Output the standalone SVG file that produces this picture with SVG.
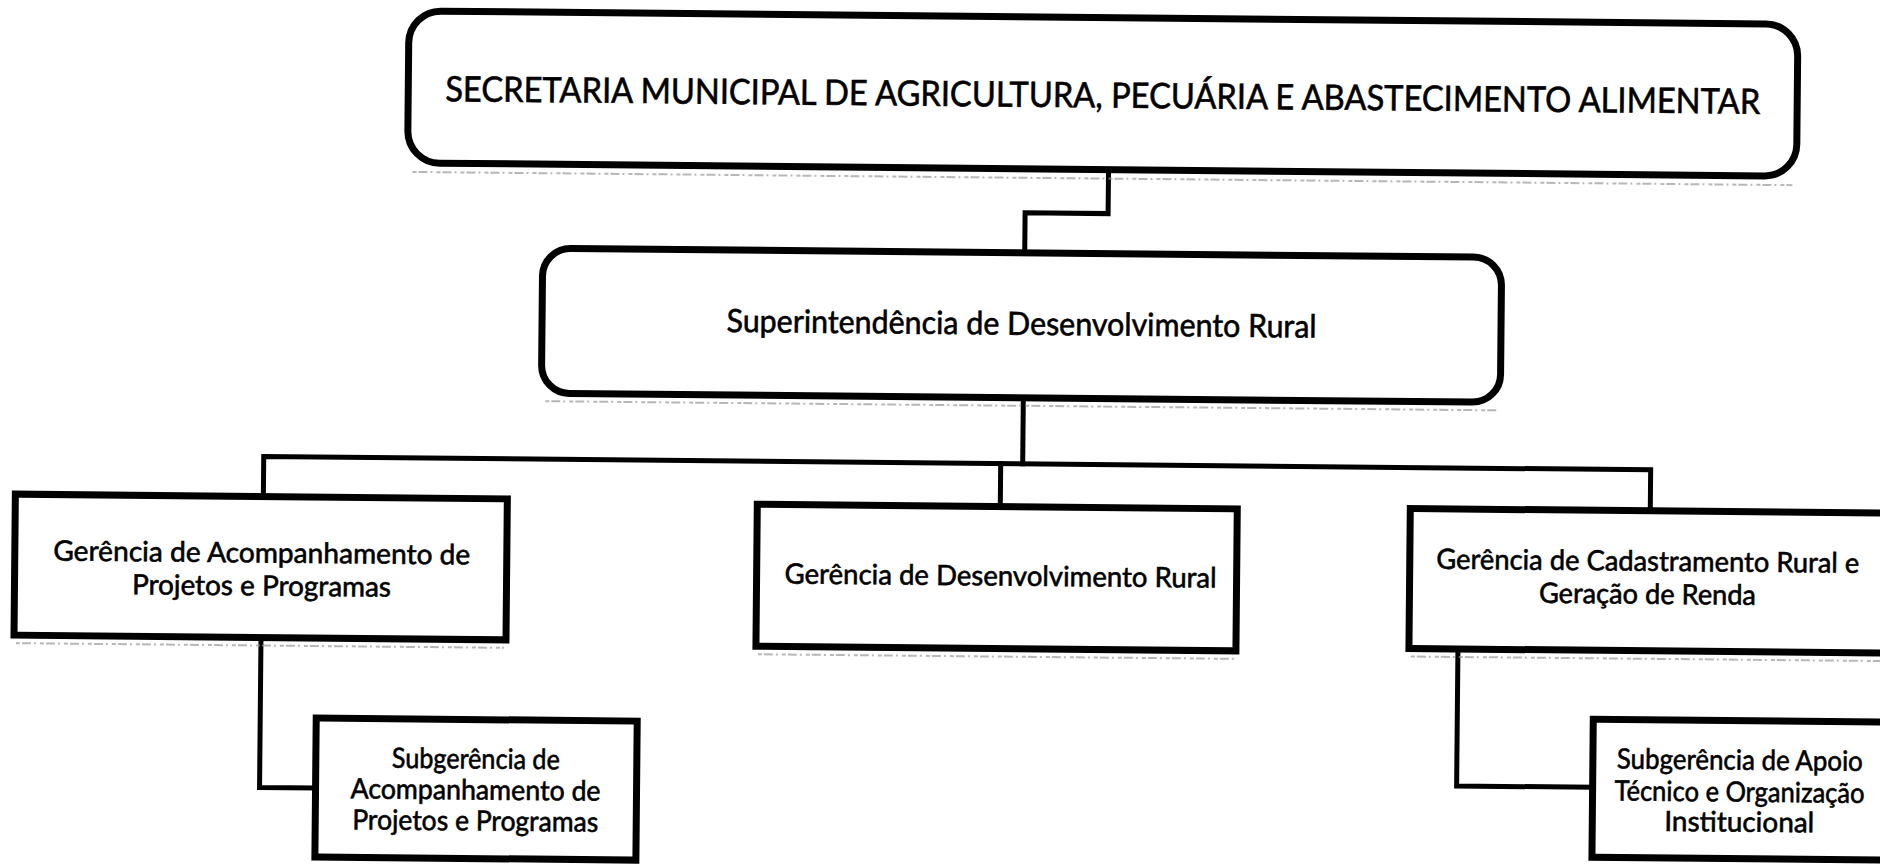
<svg xmlns="http://www.w3.org/2000/svg" width="1880" height="864" viewBox="0 0 1880 864">
<style>
.box{fill:#fff;stroke:#000;stroke-width:7}
.con{fill:none;stroke:#000;stroke-width:5;stroke-linejoin:miter;stroke-linecap:square}
.sh{stroke:#999;stroke-width:2;stroke-dasharray:4 2 9 3 2 4;opacity:.7}
text{font-family:Lato,"Open Sans","Liberation Sans",sans-serif;fill:#000;stroke:#000;stroke-width:0.6;text-anchor:middle}
.t1{font-size:35px}
.t2{font-size:32px}
.t3{font-size:28px}
</style>
<rect width="1880" height="864" fill="#fff"/>
<g transform="rotate(0.55 940 432)">
<g id="connectors">
<path class="con" d="M1106,168 V212 H1023 V252"/>
<path class="con" d="M1023,397 V463"/>
<path class="con" d="M264,503 V463 H1651 V504"/>
<path class="con" d="M1001,463 V506"/>
<path class="con" d="M263,644 V794 H319"/>
<path class="con" d="M1460,644 V781 H1596"/>
</g>
<g id="secretaria">
<line class="sh" x1="410" y1="177" x2="1790" y2="177"/>
<rect class="box" x="405" y="16" width="1389" height="152" rx="32"/>
<text class="t1" x="1099.5" y="106" textLength="1315" lengthAdjust="spacingAndGlyphs">SECRETARIA MUNICIPAL DE AGRICULTURA, PECUÁRIA E ABASTECIMENTO ALIMENTAR</text>
</g>
<g id="superintendencia">
<line class="sh" x1="545" y1="405" x2="1496" y2="405"/>
<rect class="box" x="541" y="252" width="959" height="145" rx="28"/>
<text class="t2" x="1020.5" y="334" textLength="590" lengthAdjust="spacingAndGlyphs">Superintendência de Desenvolvimento Rural</text>
</g>
<g id="ger-acompanhamento">
<line class="sh" x1="18" y1="652" x2="506" y2="652"/>
<rect class="box" x="16" y="503" width="492" height="141"/>
<text class="t3" x="263" y="569" textLength="417" lengthAdjust="spacingAndGlyphs">Gerência de Acompanhamento de</text>
<text class="t3" x="263" y="602" textLength="259" lengthAdjust="spacingAndGlyphs">Projetos e Programas</text>
</g>
<g id="ger-desenvolvimento">
<line class="sh" x1="760" y1="656" x2="1236" y2="656"/>
<rect class="box" x="758" y="506" width="480" height="142"/>
<text class="t3" x="1002" y="585" textLength="432" lengthAdjust="spacingAndGlyphs">Gerência de Desenvolvimento Rural</text>
</g>
<g id="ger-cadastramento">
<line class="sh" x1="1413" y1="652" x2="1900" y2="652"/>
<rect class="box" x="1411" y="504" width="500" height="140"/>
<text class="t3" x="1649" y="564" textLength="423" lengthAdjust="spacingAndGlyphs">Gerência de Cadastramento Rural e</text>
<text class="t3" x="1649" y="597" textLength="217" lengthAdjust="spacingAndGlyphs">Geração de Renda</text>
</g>
<g id="sub-acompanhamento">
<rect class="box" x="319" y="724" width="321" height="139"/>
<text class="t3" x="479" y="773" textLength="168" lengthAdjust="spacingAndGlyphs">Subgerência de</text>
<text class="t3" x="479" y="804" textLength="250" lengthAdjust="spacingAndGlyphs">Acompanhamento de</text>
<text class="t3" x="479" y="835" textLength="246" lengthAdjust="spacingAndGlyphs">Projetos e Programas</text>
</g>
<g id="sub-apoio">
<rect class="box" x="1596" y="713" width="320" height="138"/>
<text class="t3" x="1743" y="762" textLength="246" lengthAdjust="spacingAndGlyphs">Subgerência de Apoio</text>
<text class="t3" x="1743" y="794" textLength="250" lengthAdjust="spacingAndGlyphs">Técnico e Organização</text>
<text class="t3" x="1743" y="824" textLength="150" lengthAdjust="spacingAndGlyphs">Institucional</text>
</g>
</g>
</svg>
